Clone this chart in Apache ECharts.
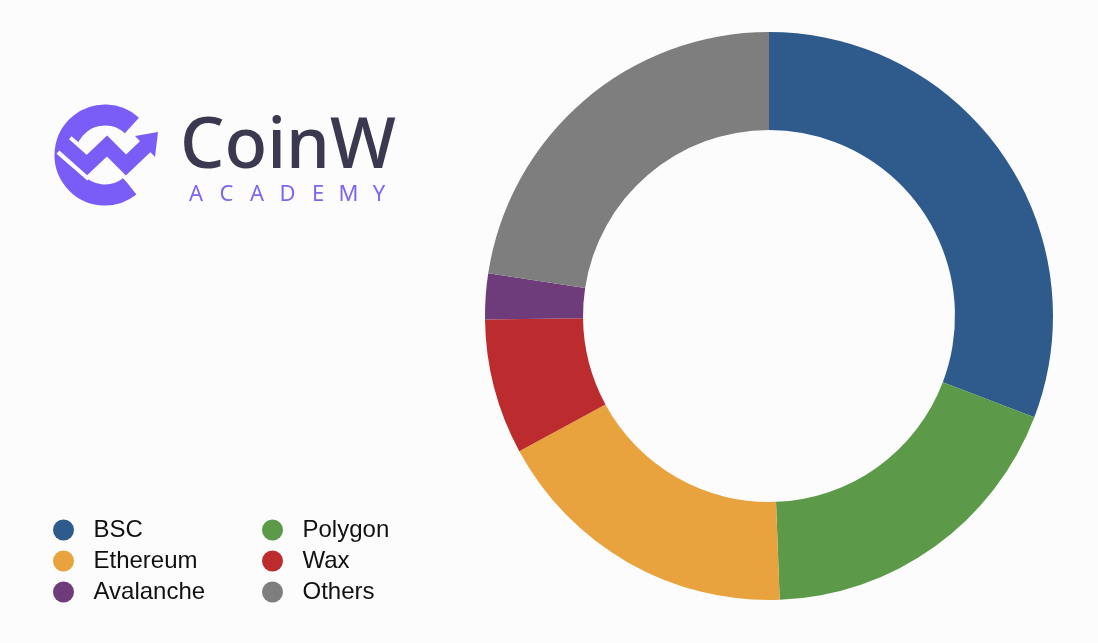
<!DOCTYPE html>
<html>
<head>
<meta charset="utf-8">
<script src="https://cdn.jsdelivr.net/npm/echarts@6/dist/echarts.min.js"></script>
<style>
html,body{margin:0;padding:0;background:#fcfcfc;}
#main{width:1098px;height:643px;}
</style>
</head>
<body>
<div id="main"></div>
<script>
const categories = ['BSC', 'Polygon', 'Ethereum', 'Wax', 'Avalanche', 'Others'];
const values = [30.8, 18.6, 17.7, 7.7, 2.6, 22.6];
const colors = ['#2e5a8c', '#5c9a4a', '#e9a33e', '#bc2c2f', '#6e3b7b', '#7d7e7d'];
const legendLeft = ['BSC', 'Ethereum', 'Avalanche'];
const legendRight = ['Polygon', 'Wax', 'Others'];
const academyLetters = ['A', 'C', 'A', 'D', 'E', 'M', 'Y'];

const chart = echarts.init(document.getElementById('main'), null, {renderer: 'canvas'});

const purple = '#7a5cf6';
const wPts = [[64, 145], [87, 165], [107, 146], [126, 165], [148, 144]];
const graphics = [
  {type: 'arc', shape: {cx: 105, cy: 155, r: 40, startAngle: 0.9, endAngle: 5.45, clockwise: true},
   style: {stroke: purple, lineWidth: 21, fill: null, lineCap: 'butt'}},
  {type: 'polyline', shape: {points: wPts.slice(0)},
   style: {stroke: '#fcfcfc', lineWidth: 23, fill: null, lineJoin: 'miter'}},
  {type: 'polyline', shape: {points: [[61, 142]].concat(wPts.slice(1))},
   style: {stroke: purple, lineWidth: 15, fill: null, lineJoin: 'miter'}},
  {type: 'polygon', shape: {points: [[135, 136], [158, 132], [155, 157]]},
   style: {fill: purple}},
  {type: 'text', left: 180, top: 113,
   style: {text: 'CoinW', fill: '#3a3950', font: '500 70px "Noto Sans", sans-serif'}}
];
academyLetters.forEach((ch, i) => {
  graphics.push({type: 'text', x: 196 + i * 30.5, y: 195,
    style: {text: ch, fill: '#8064f2', font: 'normal 22px "Noto Sans", sans-serif', textAlign: 'center', textVerticalAlign: 'middle'}});
});

const legendCommon = {
  orient: 'vertical', icon: 'circle', itemWidth: 22, itemHeight: 21, itemGap: 7,
  top: 518, padding: 0,
  textStyle: {fontFamily: '"Liberation Sans", Arial, sans-serif', fontSize: 24, lineHeight: 22, color: '#111', padding: [0, 0, 0, 14]}
};

chart.setOption({
  backgroundColor: '#fcfcfc',
  animation: false,
  color: colors,
  legend: [
    Object.assign({}, legendCommon, {left: 53, data: legendLeft}),
    Object.assign({}, legendCommon, {left: 262, data: legendRight})
  ],
  graphic: graphics,
  series: [{
    type: 'pie',
    center: [769, 316],
    radius: [186, 284],
    startAngle: 90,
    clockwise: true,
    avoidLabelOverlap: false,
    label: {show: false},
    labelLine: {show: false},
    emphasis: {scale: false},
    data: categories.map((c, i) => ({name: c, value: values[i]}))
  }]
});
</script>
</body>
</html>
